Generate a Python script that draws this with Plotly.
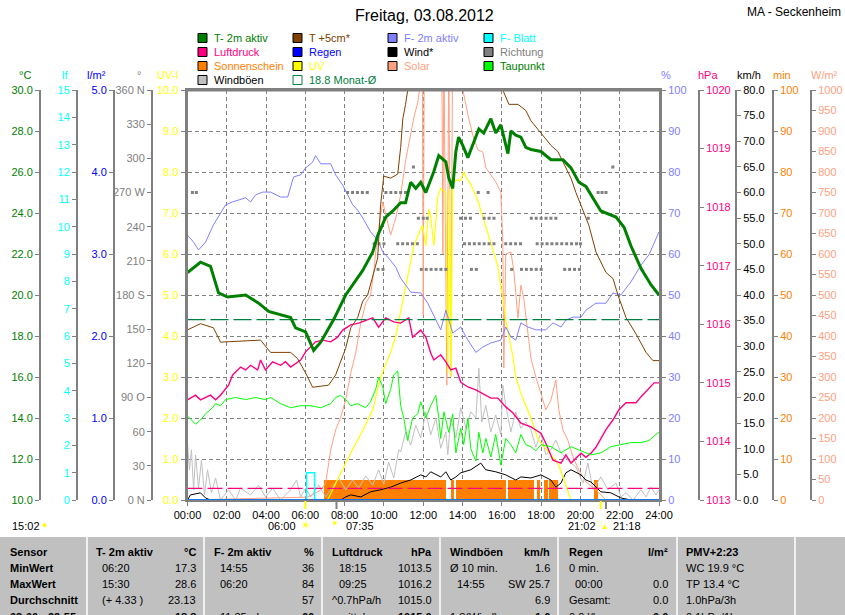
import plotly.graph_objects as go

# ---- values, times in hours after midnight ----
t2m_h = [0.0, 0.66, 1.17, 1.58, 2.04, 2.96, 3.62, 4.13, 5.25, 5.5, 6.01, 6.42, 6.78, 7.44, 8.05, 8.41,
         8.92, 9.43, 9.68, 10.09, 10.45, 10.85, 11.1, 11.36, 11.62, 11.87, 12.13, 12.53, 12.79, 13.15,
         13.3, 13.5, 13.66, 13.8, 14.01, 14.27, 14.57, 14.83, 15.08, 15.44, 15.69, 15.95, 16.31, 16.46,
         16.71, 16.97, 17.22, 17.48, 17.99, 18.5, 19.11, 19.52, 19.92, 20.28, 21.04, 21.81, 22.22,
         22.57, 23.08, 23.59, 24.0]
t2m = [21.1, 21.6, 21.4, 20.1, 19.9, 20.0, 19.6, 19.2, 18.9, 18.4, 18.2, 17.3, 17.7, 18.8, 20.0, 20.5,
       21.2, 22.1, 22.9, 23.8, 24.1, 24.5, 24.5, 25.5, 25.2, 25.5, 25.0, 26.0, 26.8, 26.5,
       25.7, 25.2, 27.0, 27.7, 27.3, 26.7, 27.5, 28.1, 27.9, 28.6, 27.9, 28.3, 26.9, 28.0,
       27.8, 27.7, 27.2, 27.1, 27.0, 26.6, 26.6, 26.2, 25.5, 25.3, 24.1, 23.8, 23.3,
       22.4, 21.3, 20.5, 20.0]

t5_h = [0.0, 0.66, 1.32, 1.68, 3.72, 4.23, 5.25, 5.6, 6.01, 6.37, 7.18, 7.54, 8.05, 8.31, 8.66, 8.92,
        9.17, 9.68, 9.83, 9.99, 10.34, 10.7, 10.85, 10.96, 11.1, 11.21, 12.0, 13.5, 15.0, 16.05, 16.36,
        16.82, 17.22, 17.48, 17.99, 18.5, 18.85, 19.26, 19.52, 19.77, 20.13, 20.43, 20.79, 21.3, 21.66,
        21.91, 22.32, 22.83, 23.34, 23.69, 24.0]
t5 = [18.3, 18.6, 18.4, 17.7, 17.8, 17.2, 17.2, 16.9, 16.2, 15.5, 15.6, 16.1, 17.4, 18.4, 18.9, 19.7,
      20.0, 21.8, 24.4, 25.8, 25.7, 25.9, 27.2, 28.6, 29.3, 30.0, 32.5, 35.0, 34.0, 30.0, 29.3,
      29.3, 29.0, 28.5, 27.9, 27.3, 27.0, 26.2, 25.7, 25.0, 24.1, 23.4, 22.1, 21.1, 20.8,
      20.0, 18.9, 18.1, 17.2, 16.8, 16.8]

f2_h = [0.0, 0.31, 0.56, 0.92, 1.32, 1.68, 1.94, 2.29, 2.96, 3.21, 3.46, 3.82, 4.23, 4.74, 5.1, 5.4,
        5.76, 6.01, 6.37, 6.52, 6.78, 7.29, 7.54, 7.9, 8.15, 8.41, 8.66, 8.92, 9.32, 9.68, 9.94, 10.24,
        10.6, 10.85, 11.11, 11.36, 11.87, 12.23, 12.89, 13.15, 13.5, 13.91, 14.17, 14.68, 15.03, 15.44,
        15.95, 16.2, 16.46, 16.71, 16.97, 17.32, 17.73, 18.24, 18.6, 19.01, 19.26, 19.62, 20.03, 20.28,
        20.79, 21.3, 21.66, 22.06, 22.57, 23.08, 23.49, 23.85, 24.0]
f2 = [64.6, 62.9, 61.0, 62.9, 67.1, 70.0, 72.0, 72.7, 73.7, 72.7, 74.4, 75.1, 75.1, 73.9, 73.9, 78.8,
      79.3, 81.0, 82.4, 84.0, 82.0, 82.0, 79.3, 76.8, 74.4, 72.0, 70.7, 68.8, 65.4, 63.4, 60.5, 59.0,
      56.8, 54.1, 52.4, 50.7, 50.5, 48.0, 41.5, 46.3, 40.7, 42.2, 39.8, 36.0, 37.3, 38.3,
      39.0, 42.2, 39.8, 39.0, 43.2, 42.2, 41.5, 41.5, 43.2, 42.2, 43.9, 44.6, 44.6, 46.3,
      48.0, 48.0, 50.5, 50.0, 53.2, 57.3, 59.8, 63.9, 65.4]

lp_h = [0.0, 0.41, 0.66, 1.17, 1.43, 1.68, 2.09, 2.29, 2.7, 2.96, 3.21, 3.57, 3.72, 3.97, 4.33, 4.74,
        4.99, 5.25, 5.76, 6.01, 6.52, 6.88, 7.29, 7.64, 7.9, 8.31, 8.71, 9.07, 9.43, 9.73, 10.09, 10.5,
        10.85, 11.26, 11.46, 11.87, 12.13, 12.38, 12.54, 12.89, 13.15, 13.4, 13.66, 13.91, 14.27, 14.68,
        14.93, 15.44, 15.8, 16.2, 16.56, 16.97, 17.48, 17.99, 18.24, 18.6, 19.01, 19.26, 19.52, 20.03,
        20.28, 20.54, 20.79, 21.04, 21.3, 21.66, 21.96, 22.32, 22.83, 23.08, 23.44, 23.75, 24.0]
lp = [1014.71, 1014.79, 1014.71, 1014.79, 1014.71, 1014.79, 1014.96, 1015.13, 1015.27, 1015.22,
      1015.30, 1015.22, 1015.39, 1015.22, 1015.36, 1015.30, 1015.36, 1015.27, 1015.39, 1015.53,
      1015.70, 1015.73, 1015.70, 1015.78, 1015.90, 1015.99, 1016.02, 1016.07, 1016.11, 1015.95,
      1016.11, 1016.04, 1016.02, 1016.11, 1015.78, 1015.90, 1015.78, 1015.51, 1015.39, 1015.48,
      1015.36, 1015.22, 1015.25, 1015.01, 1014.93, 1014.88, 1014.83, 1014.74, 1014.74, 1014.59,
      1014.49, 1014.31, 1014.25, 1014.14, 1013.97, 1013.68, 1013.63, 1013.77, 1013.63, 1013.80,
      1013.73, 1013.80, 1013.90, 1014.06, 1014.20, 1014.37, 1014.54, 1014.66, 1014.66, 1014.76,
      1014.88, 1015.00, 1015.00]

tp_h = [0.0, 0.41, 0.66, 0.92, 1.27, 1.43, 1.68, 1.94, 2.45, 2.96, 3.46, 3.97, 4.23, 4.74, 5.25, 5.76,
        6.27, 6.78, 7.29, 7.54, 7.8, 8.05, 8.31, 8.66, 9.07, 9.32, 9.58, 9.73, 9.94, 10.09, 10.34, 10.5,
        10.7, 10.85, 11.01, 11.2, 11.46, 11.72, 11.87, 12.13, 12.38, 12.64, 12.79, 12.89, 13.05, 13.3,
        13.5, 13.66, 13.91, 14.06, 14.27, 14.42, 14.68, 14.83, 15.03, 15.19, 15.44, 15.69, 15.95, 16.2,
        16.46, 16.71, 16.97, 17.22, 17.48, 17.73, 17.99, 18.5, 19.01, 19.52, 20.03, 20.54, 21.04, 21.55,
        22.06, 22.57, 23.08, 23.49, 23.85, 24.0]
tp = [14.1, 13.7, 13.9, 14.2, 14.5, 14.7, 14.6, 14.9, 15.0, 14.9, 15.0, 14.9, 15.0, 14.7, 14.5, 14.6,
      14.6, 14.5, 14.7, 15.0, 15.1, 14.9, 14.6, 14.7, 14.5, 14.8, 15.4, 16.0, 15.5, 14.7, 15.4, 16.1,
      16.3, 14.6, 14.0, 12.9, 14.0, 14.2, 14.8, 14.0, 14.6, 15.1, 14.0, 13.0, 14.3, 13.3,
      14.2, 12.3, 13.5, 12.7, 14.0, 12.5, 11.9, 13.3, 12.3, 13.0, 12.1, 13.2, 11.7, 13.0,
      12.7, 12.3, 13.2, 12.7, 12.6, 12.4, 12.7, 12.6, 12.3, 12.6, 12.4, 12.2, 12.3, 12.6,
      12.7, 12.8, 12.8, 12.9, 13.2, 13.3]

gust_h = [0.0, 0.1, 0.2, 0.31, 0.41, 0.56, 0.71, 0.87, 1.02, 1.22, 1.43, 1.68, 2.09, 2.45, 2.7, 3.21,
          3.62, 3.97, 4.33, 4.74, 5.25, 5.55, 5.76, 6.01, 6.27, 6.68, 7.03, 7.29, 7.69, 8.05, 8.41, 8.71,
          9.07, 9.43, 9.73, 9.99, 10.24, 10.5, 10.75, 10.85, 11.11, 11.36, 11.62, 11.87, 12.13, 12.38,
          12.64, 12.89, 13.15, 13.25, 13.4, 13.66, 13.91, 14.17, 14.42, 14.68, 14.83, 14.98, 15.18, 15.44,
          15.69, 15.95, 16.05, 16.2, 16.46, 16.71, 16.97, 17.22, 17.48, 17.73, 17.99, 18.24, 18.5, 18.75,
          19.01, 19.36, 19.77, 20.13, 20.38, 20.64, 21.04, 21.4, 21.81, 22.06, 22.32, 22.68, 23.08, 23.34,
          23.59, 23.85, 24.0]
gust = [11.1, 5.9, 9.8, 2.0, 8.8, 2.3, 7.8, 1.0, 5.9, 1.4, 4.3, 0.0, 2.0, 0.0, 2.3, 1.0,
        2.9, 0.6, 2.3, 0.0, 2.0, 3.9, 0.6, 2.3, 0.6, 2.9, 0.6, 2.0, 4.3, 2.0, 3.9, 2.3,
        4.7, 2.9, 5.9, 3.1, 7.4, 4.3, 9.8, 9.4, 13.3, 10.7, 14.6, 12.1, 17.2, 12.7,
        16.0, 10.1, 13.3, 8.8, 16.0, 12.1, 18.0, 14.0, 17.2, 16.0, 25.7, 15.2, 18.5, 13.3,
        16.6, 12.7, 22.4, 18.5, 13.3, 17.2, 14.0, 15.2, 13.7, 10.3, 13.1, 8.8, 9.8, 11.7,
        9.2, 7.8, 6.4, 3.3, 7.2, 2.0, 4.5, 2.0, 3.3, 0.6, 1.4, 0.0, 2.0, 0.6,
        2.5, 1.0, 2.0]

wind_h = [0.0, 0.15, 0.66, 0.92, 1.17, 7.8, 8.05, 8.31, 8.82, 9.32, 9.83, 10.34, 10.85, 11.36, 11.87,
          12.13, 12.38, 12.89, 13.15, 13.4, 13.66, 13.91, 14.42, 14.93, 15.18, 15.69, 16.2, 16.71, 16.97,
          17.48, 17.99, 18.5, 18.75, 19.01, 19.26, 19.52, 20.03, 20.28, 20.54, 20.79, 21.04, 21.55, 22.06,
          22.57, 24.0]
wind = [0.0, 1.0, 1.4, 0.4, 0.0, 0.0, 0.6, 1.0, 0.6, 1.6, 2.0, 2.5, 3.3, 3.9, 4.9,
        4.5, 5.5, 4.5, 5.5, 3.9, 4.5, 5.3, 5.9, 7.2, 5.9, 5.5, 4.9, 3.9, 4.5,
        4.3, 4.9, 3.9, 2.5, 3.3, 5.3, 5.9, 4.9, 3.9, 3.5, 2.5, 1.6, 1.4, 0.4,
        0.0, 0.0]

uv_h = [0.0, 7.13, 7.64, 8.15, 8.92, 9.43, 9.83, 10.09, 10.34, 10.6, 10.85, 11.11, 11.36, 11.52, 11.77,
        11.97, 12.13, 12.28, 12.38, 12.54, 12.74, 12.89, 13.15, 13.25, 13.35, 13.4, 13.5, 13.66, 13.91,
        14.06, 14.27, 14.42, 14.78, 15.03, 15.29, 15.54, 15.8, 15.95, 16.1, 16.2, 16.36, 16.56, 16.71,
        16.97, 17.22, 17.48, 17.83, 18.14, 18.5, 18.85, 19.01, 19.16, 19.36, 19.52, 24.0]
uv = [0.0, 0.0, 0.5, 1.0, 1.7, 2.2, 3.0, 3.3, 3.6, 4.0, 4.6, 5.2, 5.8, 6.2, 6.5,
      6.7, 6.2, 7.1, 6.9, 6.2, 7.4, 7.6, 7.5, 3.1, 7.6, 3.0, 7.7, 7.8, 7.8,
      8.0, 7.8, 7.7, 7.3, 6.9, 6.5, 6.1, 5.7, 5.2, 4.8, 4.4, 4.0, 3.5, 3.0,
      2.6, 2.3, 2.0, 1.5, 1.3, 1.1, 0.9, 0.7, 0.5, 0.2, 0.0, 0.0]

sol_h = [0.0, 6.11, 6.78, 7.03, 7.29, 7.54, 7.8, 8.05, 8.31, 8.56, 8.82, 9.07, 9.32, 9.48, 9.58, 9.73,
         9.94, 10.19, 10.34, 10.6, 10.85, 11.11, 11.36, 11.52, 11.72, 11.87, 11.95, 12.0, 12.05, 12.4,
         12.8, 12.95, 13.0, 13.05, 13.2, 13.3, 13.4, 13.5, 13.8, 14.06, 14.27, 14.52, 14.78, 15.03, 15.19,
         15.44, 15.69, 15.95, 16.05, 16.1, 16.2, 16.46, 16.61, 16.82, 16.97, 17.12, 17.32, 17.48, 17.73,
         17.99, 18.24, 18.5, 18.75, 18.9, 19.11, 19.36, 19.62, 19.92, 20.28, 20.79, 21.3, 24.0]
sol = [0, 7, 24, 41, 122, 171, 202, 244, 310, 358, 432, 480, 500, 556, 605, 663,
       727, 671, 646, 688, 744, 830, 890, 932, 970, 1020, 1100, 450, 1100, 1200,
       1150, 1050, 600, 1100, 280, 1100, 300, 1150, 1100, 990, 940, 890, 854, 849, 810,
       793, 776, 751, 629, 322, 600, 605, 560, 444, 524, 490, 410, 346, 300,
       261, 220, 244, 293, 220, 171, 146, 105, 73, 44, 24, 0, 0]

sun_start = [6.93, 13.4, 13.66, 16.3, 17.78, 18.14, 18.39, 20.69]
sun_end = [13.15, 13.55, 16.2, 17.63, 17.94, 18.34, 18.85, 20.89]
sun_min = [5, 5, 5, 5, 5, 5, 5, 5]

dir_h = [0.25, 0.45, 8.15, 8.4, 8.65, 8.9, 9.15, 9.5, 9.7, 9.75,
         9.95, 10.0, 10.1, 10.35, 10.6, 10.7, 10.85, 10.95, 11.1, 11.2,
         11.45, 11.5, 11.7, 11.75, 11.9, 12.0, 12.15, 12.2, 12.4, 12.65,
         12.9, 13.15, 13.9, 14.1, 14.15, 14.35, 14.4, 14.45, 14.6, 14.7,
         14.8, 14.85, 15.1, 15.1, 15.3, 15.35, 15.35, 15.6, 15.6, 16.2,
         16.45, 16.5, 16.7, 16.95, 17.0, 17.25, 17.5, 17.5, 17.75, 17.75,
         17.8, 18.0, 18.0, 18.05, 18.25, 18.3, 18.5, 18.55, 18.75, 18.8,
         19.05, 19.2, 19.3, 19.45, 19.55, 19.7, 19.8, 19.95, 20.0, 20.4,
         20.9, 21.1, 21.3, 21.65]
dir_deg = [270, 270, 270, 270, 270, 270, 270, 225, 202.5, 225,
           202.5, 225, 270, 270, 270, 225, 270, 225, 270, 225,
           225, 292.5, 225, 247.5, 202.5, 247.5, 202.5, 247.5, 202.5, 202.5,
           202.5, 202.5, 247.5, 225, 247.5, 225, 247.5, 202.5, 225, 202.5,
           270, 225, 225, 247.5, 270, 225, 247.5, 225, 247.5, 225,
           225, 202.5, 225, 225, 202.5, 202.5, 202.5, 247.5, 202.5, 247.5,
           225, 202.5, 247.5, 225, 247.5, 225, 247.5, 225, 247.5, 225,
           225, 202.5, 225, 202.5, 225, 202.5, 225, 202.5, 225, 247.5,
           270, 270, 270, 292.5]

leaf_h = [0.0, 6.06, 6.47, 24.0]
leaf = [0, 1, 0, 0]
rain_h = [0.0, 24.0]
rain = [0.0, 0.0]
month_avg = 18.8
press_ref = 1013.2
astro_h = [6.0, 7.583, 21.033, 21.3]   # sunrise, moonset, sunset, moonrise

hour_ticks = [0, 2, 4, 6, 8, 10, 12, 14, 16, 18, 20, 22, 24]
hour_labels = ["00:00", "02:00", "04:00", "06:00", "08:00", "10:00", "12:00",
               "14:00", "16:00", "18:00", "20:00", "22:00", "24:00"]
degc_ticks = [10, 12, 14, 16, 18, 20, 22, 24, 26, 28, 30]
lf_ticks = list(range(0, 16))
rain_ticks = [0, 1, 2, 3, 4, 5]
deg_ticks = [0, 30, 60, 90, 120, 150, 180, 210, 240, 270, 300, 330, 360]
deg_labels = ["0 N", "30", "60", "90 O", "120", "150", "180 S", "210", "240", "270 W", "300", "330", "360 N"]
uv_ticks = [0, 1, 2, 3, 4, 5, 6, 7, 8, 9, 10]
pct_ticks = [0, 10, 20, 30, 40, 50, 60, 70, 80, 90, 100]
hpa_ticks = [1013, 1014, 1015, 1016, 1017, 1018, 1019, 1020]
kmh_ticks = list(range(0, 85, 5))
min_ticks = [0, 10, 20, 30, 40, 50, 60, 70, 80, 90, 100]
wm2_ticks = list(range(0, 1050, 50))

# ---- styling / layout helpers ----
GRAY = "#808080"
FONT = "Liberation Sans, Arial, sans-serif"
W, H = 845, 615
X_LEFT, X_RIGHT = 187.5, 659
Y_TOP, Y_BOT = 90, 500

GREEN, BROWN, LILAC, CYAN = "#008000", "#804000", "#8080ff", "#00ffff"
PINK, BLUE, ORANGE, YELLOW = "#ff0080", "#0000ff", "#ff8000", "#ffff00"
SALMON, LIME, LGRAY = "#ffa080", "#00ff00", "#c0c0c0"


def px(x):
    return x / W


def py(y):
    return 1 - y / H


fig = go.Figure()

# trace order follows the axis ids so the layering matches the original
sun_mid = [(a + b) / 2 for a, b in zip(sun_start, sun_end)]
sun_w = [b - a for a, b in zip(sun_start, sun_end)]
fig.add_trace(go.Bar(x=sun_mid, y=sun_min, width=sun_w, yaxis="y",
                     marker=dict(color=ORANGE, line_width=0)))
fig.add_trace(go.Scatter(x=sol_h, y=sol, yaxis="y2", mode="lines", line=dict(color=SALMON, width=1)))
fig.add_trace(go.Scatter(x=gust_h, y=gust, yaxis="y3", mode="lines", line=dict(color=LGRAY, width=1)))
fig.add_trace(go.Scatter(x=wind_h, y=wind, yaxis="y3", mode="lines", line=dict(color="black", width=1)))
fig.add_trace(go.Scatter(x=uv_h, y=uv, yaxis="y4", mode="lines", line=dict(color=YELLOW, width=1.2)))
fig.add_trace(go.Scatter(x=f2_h, y=f2, yaxis="y5", mode="lines", line=dict(color=LILAC, width=1)))
fig.add_trace(go.Scatter(x=[0, 24], y=[press_ref, press_ref], yaxis="y6", mode="lines",
                         line=dict(color=PINK, width=1.2, dash="15px,5px")))
fig.add_trace(go.Scatter(x=lp_h, y=lp, yaxis="y6", mode="lines", line=dict(color=PINK, width=1.4)))
fig.add_trace(go.Scatter(x=dir_h, y=dir_deg, yaxis="y7", mode="markers",
                         marker=dict(color=GRAY, size=3, symbol="square", line_width=0)))
fig.add_trace(go.Scatter(x=leaf_h, y=leaf, yaxis="y8", mode="lines", line=dict(color=CYAN, width=1.5, shape="hv")))
fig.add_trace(go.Scatter(x=rain_h, y=rain, yaxis="y9", mode="lines", line=dict(color=BLUE, width=1)))
fig.add_trace(go.Scatter(x=tp_h, y=tp, yaxis="y10", mode="lines", line=dict(color=LIME, width=1)))
fig.add_trace(go.Scatter(x=t5_h, y=t5, yaxis="y10", mode="lines", line=dict(color=BROWN, width=1)))
fig.add_trace(go.Scatter(x=[0, 24], y=[month_avg, month_avg], yaxis="y10", mode="lines",
                         line=dict(color="#008040", width=1.3, dash="18px,5px")))
fig.add_trace(go.Scatter(x=t2m_h, y=t2m, yaxis="y10", mode="lines", line=dict(color=GREEN, width=3)))


def yax(rng, vals, text, color, pos=None, side="left", lw=2, base=False):
    ax = dict(range=rng, tickmode="array", tickvals=vals, ticktext=text,
              tickfont=dict(color=color, size=11, family=FONT),
              showline=True, linecolor=GRAY, linewidth=lw,
              ticks="outside", ticklen=4, tickcolor=GRAY, tickwidth=1,
              showgrid=False, zeroline=False, side=side, automargin=False)
    if pos is None:
        ax["anchor"] = "x"
    else:
        ax["anchor"] = "free"
        ax["position"] = px(pos)
    if base:
        ax["domain"] = [py(Y_BOT), py(Y_TOP)]
        ax.update(showgrid=True, gridcolor=GRAY, griddash="4px,3px", gridwidth=1)
    else:
        ax["overlaying"] = "y"
    return ax


layout_axes = dict(
    yaxis=yax([0, 100], min_ticks, [str(v) for v in min_ticks], ORANGE, 773, "right", base=True),
    yaxis2=yax([0, 1000], wm2_ticks, [str(v) for v in wm2_ticks], SALMON, 811, "right"),
    yaxis3=yax([0, 80], kmh_ticks, [f"{v:.1f}" for v in kmh_ticks], "black", 736, "right"),
    yaxis4=yax([0, 10], uv_ticks, [f"{v:.1f}" for v in uv_ticks], YELLOW, None, "left", lw=3),
    yaxis5=yax([0, 100], pct_ticks, [str(v) for v in pct_ticks], LILAC, None, "right", lw=3),
    yaxis6=yax([1013, 1020], hpa_ticks, [str(v) for v in hpa_ticks], PINK, 699, "right"),
    yaxis7=yax([0, 360], deg_ticks, deg_labels, GRAY, 152, "left"),
    yaxis8=yax([0, 15], lf_ticks, [str(v) for v in lf_ticks], CYAN, 77, "left"),
    yaxis9=yax([0, 5], rain_ticks, [f"{v:.1f}" for v in rain_ticks], BLUE, 114, "left"),
    yaxis10=yax([10, 30], degc_ticks, [f"{v:.1f}" for v in degc_ticks], GREEN, 40, "left"),
)

ann = []
shapes = []


def text(s, x, y, color="black", size=11, anchor="left", bold=False):
    ann.append(dict(text=f"<b>{s}</b>" if bold else s, x=px(x), y=py(y), xref="paper", yref="paper",
                    xanchor=anchor, yanchor="middle", showarrow=False,
                    font=dict(family=FONT, size=size, color=color)))


# title
text("Freitag, 03.08.2012", 424, 15, size=16, anchor="center")
text("MA - Seckenheim", 843, 12, size=12, anchor="right")

# axis headers
for s, x, c in [("°C", 25, GREEN), ("lf", 65, CYAN), ("l/m²", 96, BLUE), ("°", 139, GRAY),
                ("UV-I", 167, YELLOW), ("%", 666, LILAC), ("hPa", 708, PINK), ("km/h", 749, "black"),
                ("min", 782, ORANGE), ("W/m²", 824, SALMON)]:
    text(s, x, 75, c, anchor="center")

# legend (hand placed, four columns)
legend_items = [
    ("T- 2m aktiv", GREEN, GREEN), ("T +5cm*", BROWN, BROWN), ("F- 2m aktiv", LILAC, LILAC),
    ("F- Blatt", CYAN, CYAN), ("Luftdruck", PINK, PINK), ("Regen", BLUE, BLUE),
    ("Wind*", "black", "black"), ("Richtung", GRAY, GRAY), ("Sonnenschein", ORANGE, ORANGE),
    ("UV", YELLOW, YELLOW), ("Solar", SALMON, SALMON), ("Taupunkt", LIME, GREEN),
    ("Windböen", LGRAY, "black"), ("18.8 Monat-Ø", None, "#008040"),
]
col_x = [198, 293, 388, 484]
for i, (name, sq, tc) in enumerate(legend_items):
    x = col_x[i % 4]
    y = 38 + 14 * (i // 4)
    if sq is None:
        shapes.append(dict(type="rect", xref="paper", yref="paper", x0=px(x), x1=px(x + 9),
                           y0=py(y + 4.5), y1=py(y - 4.5), line=dict(color="#008040", width=1)))
    else:
        shapes.append(dict(type="rect", xref="paper", yref="paper", x0=px(x), x1=px(x + 9),
                           y0=py(y + 4.5), y1=py(y - 4.5), fillcolor=sq, line=dict(color="black", width=1)))
    text(name, x + 14, y, tc)

# top frame line
shapes.append(dict(type="line", xref="paper", yref="paper", x0=px(X_LEFT), x1=px(X_RIGHT),
                   y0=py(Y_TOP), y1=py(Y_TOP), line=dict(color=GRAY, width=3)))

# sun / moon markers under the time axis
for h, c in zip(astro_h, [YELLOW, GRAY, YELLOW, GRAY]):
    shapes.append(dict(type="line", xref="x", yref="paper", x0=h, x1=h, y0=py(Y_BOT + 1), y1=py(Y_BOT + 9),
                       line=dict(color=c, width=2)))
text("15:02", 10, 526)
text("●", 40, 525, YELLOW, size=9)
text("06:00", 298, 526, anchor="right")
text("☀", 306, 525, YELLOW, size=11, anchor="center")
text("▼", 335, 523, YELLOW, size=8, anchor="center")
text("07:35", 344, 526)
text("21:02", 566, 526)
text("□", 599, 523, YELLOW, size=8, anchor="center")
text("▲", 605, 526, YELLOW, size=8, anchor="center")
text("21:18", 611, 526)

# statistics table
shapes.append(dict(type="rect", xref="paper", yref="paper", x0=0, x1=1, y0=0, y1=py(537),
                   fillcolor="#c0c0c0", line_width=0, layer="below"))
for sx in [87, 204, 322, 440, 558, 677, 795]:
    shapes.append(dict(type="line", xref="paper", yref="paper", x0=px(sx), x1=px(sx), y0=0, y1=py(537),
                       line=dict(color="#f0f0f0", width=2)))

rows_y = [552, 568, 584, 600, 617]
text("Sensor", 8, rows_y[0], bold=True)
for lbl, y in zip(["MinWert", "MaxWert", "Durchschnitt", "03:00 - 22:55"], rows_y[1:]):
    text(lbl, 8, y, bold=True)

heads = [("T- 2m aktiv", 94, "°C", 198), ("F- 2m aktiv", 212, "%", 316), ("Luftdruck", 330, "hPa", 434),
         ("Windböen", 448, "km/h", 552), ("Regen", 567, "l/m²", 670)]
for left, lx, right, rx in heads:
    text(left, lx, rows_y[0], bold=True)
    text(right, rx, rows_y[0], anchor="right", bold=True)
text("PMV+2:23", 684, rows_y[0], bold=True)

cells_left = [
    ("06:20", 100, 1), ("15:30", 100, 2), ("(+ 4.33 )", 100, 3),
    ("14:55", 218, 1), ("06:20", 218, 2), ("11:35 - h", 218, 4),
    ("18:15", 337, 1), ("09:25", 337, 2), ("^0.7hPa/h", 330, 3), ("mittel", 337, 4),
    ("Ø 10 min.", 448, 1), ("14:55", 455, 2), ("1.8(Wind)", 448, 4),
    ("0 min.", 567, 1), ("00:00", 573, 2), ("Gesamt:", 567, 3), ("0.0 l/h", 567, 4),
    ("WC 19.9 °C", 684, 1), ("TP 13.4 °C", 684, 2), ("1.0hPa/3h", 684, 3), ("0.1hPa/1h", 684, 4),
]
for s, x, r in cells_left:
    text(s, x, rows_y[r])
cells_right = [
    ("17.3", 198, 1), ("28.6", 198, 2), ("23.13", 198, 3), ("18.8", 198, 4),
    ("36", 316, 1), ("84", 316, 2), ("57", 316, 3), ("66", 316, 4),
    ("1013.5", 434, 1), ("1016.2", 434, 2), ("1015.0", 434, 3), ("1015.0", 434, 4),
    ("1.6", 552, 1), ("SW 25.7", 552, 2), ("6.9", 552, 3), ("1.6", 552, 4),
    ("0.0", 670, 2), ("0.0", 670, 3), ("0.0", 670, 4),
]
for s, x, r in cells_right:
    text(s, x, rows_y[r], anchor="right", bold=(r == 4))

fig.update_layout(
    width=W, height=H, template="none",
    margin=dict(l=0, r=0, t=0, b=0),
    paper_bgcolor="white", plot_bgcolor="white",
    showlegend=False, font=dict(family=FONT, size=11, color="black"),
    xaxis=dict(domain=[px(X_LEFT), px(X_RIGHT)], range=[0, 24], anchor="y",
               tickmode="array", tickvals=hour_ticks, ticktext=hour_labels,
               tickfont=dict(size=11, color="black", family=FONT),
               showgrid=True, gridcolor=GRAY, griddash="4px,3px", gridwidth=1,
               showline=True, linecolor=GRAY, linewidth=2, mirror=True,
               ticks="outside", ticklen=4, tickcolor=GRAY, zeroline=False, automargin=False),
    annotations=ann, shapes=shapes, bargap=0,
    **layout_axes,
)

# the page body has a default margin; drop it so the figure fills the window exactly
fig.write_html("out.html", config={"displayModeBar": False},
               post_script="document.body.style.margin='0';")
